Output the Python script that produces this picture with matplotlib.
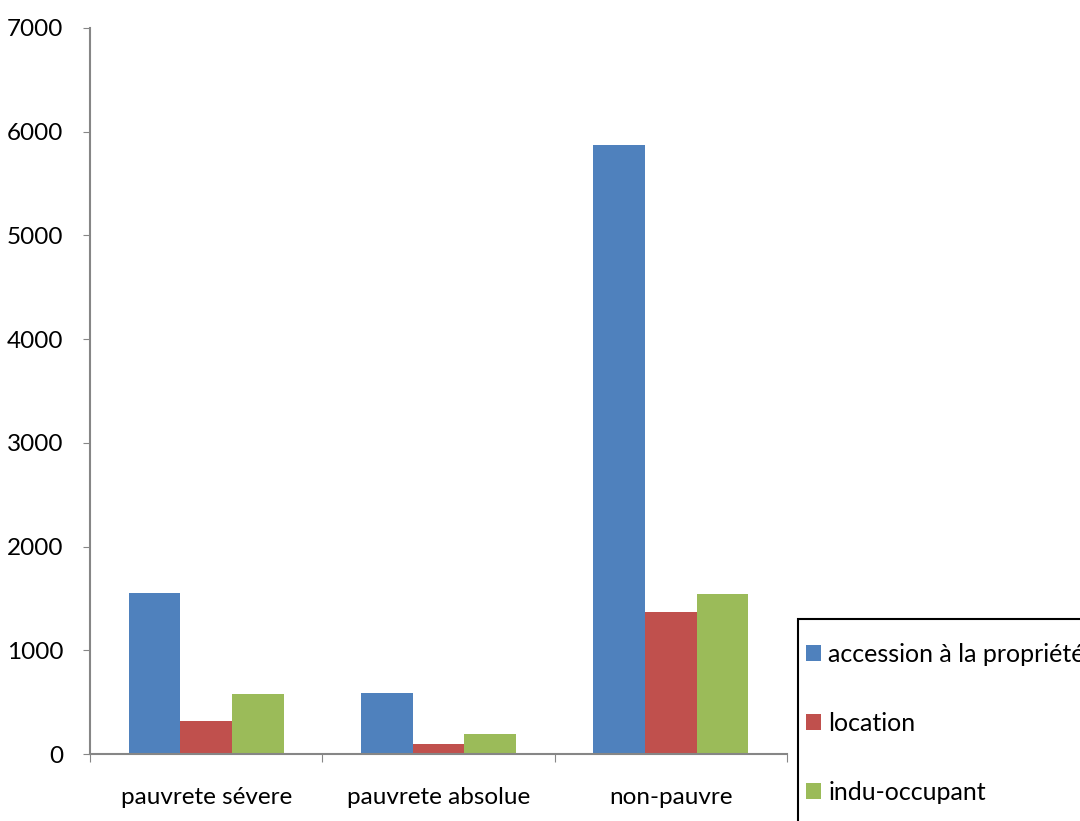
import matplotlib
matplotlib.use("Agg")
import matplotlib.pyplot as plt
from matplotlib.patches import Rectangle
import numpy as np

categories = ["pauvrete sévere", "pauvrete absolue", "non-pauvre"]
series_names = ["accession à la propriété", "location", "indu-occupant"]
accession = [1550, 585, 5870]
location = [315, 94, 1369]
indu = [576, 196, 1540]
yticks = [0, 1000, 2000, 3000, 4000, 5000, 6000, 7000]

colors = ["#4F81BD", "#C0504D", "#9BBB59"]

plt.rcParams['font.family'] = ['Lato', 'DejaVu Sans']
FS = 17.5

fig = plt.figure(figsize=(10.8, 8.21), dpi=100)
ax = fig.add_axes([90/1080, 1-754/821, (787-90)/1080, (754-28)/821])

x = np.arange(len(categories))
w = 0.222
data = [accession, location, indu]
for i, (vals, c, n) in enumerate(zip(data, colors, series_names)):
    ax.bar(x + (i-1)*w, vals, width=w, color=c, label=n, edgecolor='none')

ax.set_xlim(-0.5, 2.5)
ax.set_ylim(0, 7000)
ax.set_yticks(yticks)
ax.set_yticklabels([str(t) for t in yticks], fontsize=FS)
ax.set_xticks([-0.5, 0.5, 1.5, 2.5])
ax.set_xticklabels([])
ax.set_xticks(x, minor=True)
ax.set_xticklabels(categories, minor=True, fontsize=FS)
ax.tick_params(axis='x', which='minor', length=0, pad=24)
ax.tick_params(axis='x', which='major', length=6, color='#868686', direction='out')
ax.tick_params(axis='y', length=5, color='#868686', pad=14)
for s in ['top', 'right']:
    ax.spines[s].set_visible(False)
for s in ['left', 'bottom']:
    ax.spines[s].set_color('#868686')
    ax.spines[s].set_linewidth(1.5)

# legend frame (extends beyond the figure edge, as in the reference)
fig.patches.append(Rectangle((798/1080, -0.1), 0.5, (1-619/821)+0.1,
                             transform=fig.transFigure, facecolor='white',
                             edgecolor='black', linewidth=1.5, zorder=5))
leg = fig.legend(loc='upper left', bbox_to_anchor=(806/1080, 1-643/821),
                 fontsize=18, frameon=False,
                 handlelength=0.6, handleheight=0.6, handletextpad=0.3,
                 labelspacing=1.84, borderpad=0, borderaxespad=0)
leg.set_zorder(6)

fig.savefig("out.png", dpi=100)
